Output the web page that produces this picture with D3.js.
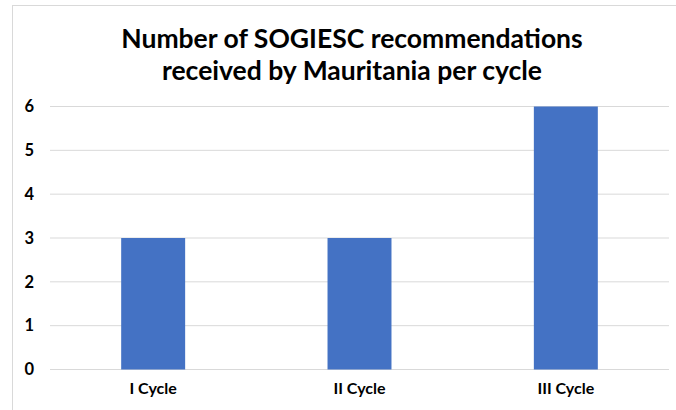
<!DOCTYPE html>
<html>
<head>
<meta charset="utf-8">
<script src="https://cdn.jsdelivr.net/npm/d3@7"></script>
<style>
  body { margin: 0; background: #fff; }
  svg { display: block; font-family: Lato, "Open Sans", sans-serif; }
</style>
</head>
<body>
<svg width="676" height="410"></svg>
<script>
// data
var cycles = ["I Cycle", "II Cycle", "III Cycle"];
var recommendations = [3, 3, 6];
var yTicks = [0, 1, 2, 3, 4, 5, 6];
var titleLines = ["Number of SOGIESC recommendations", "received by Mauritania per cycle"];

var svg = d3.select("svg");

// chart frame (only top and left edges are in view)
svg.append("rect")
    .attr("x", 12.5).attr("y", 5.5)
    .attr("width", 800).attr("height", 600)
    .attr("fill", "#fff")
    .attr("stroke", "#d9d9d9");

var x = d3.scaleBand()
    .domain(cycles)
    .range([50, 669])
    .paddingInner(0.69)
    .paddingOuter(0.345);

var y = d3.scaleLinear()
    .domain([0, 6])
    .range([369.5, 106.5]);

// gridlines
svg.append("g").selectAll("line")
    .data(yTicks)
    .enter().append("line")
    .attr("x1", 50).attr("x2", 669)
    .attr("y1", function(d){return y(d);})
    .attr("y2", function(d){return y(d);})
    .attr("stroke", "#d9d9d9")
    .attr("stroke-width", 1);

// y axis labels
var yAxis = d3.axisLeft(y).tickValues(yTicks).tickFormat(d3.format("d")).tickSize(0).tickPadding(0);
svg.append("g")
    .attr("transform", "translate(34,0)")
    .call(yAxis)
    .call(function(g){g.select(".domain").remove();})
    .selectAll("text")
    .attr("font-family", "Lato, sans-serif")
    .attr("font-size", 16.5)
    .attr("font-weight", "bold")
    .attr("fill", "#000");

// bars
svg.append("g").selectAll("rect")
    .data(recommendations)
    .enter().append("rect")
    .attr("x", function(d, i){return x(cycles[i]);})
    .attr("width", x.bandwidth())
    .attr("y", function(d){return y(d);})
    .attr("height", function(d){return y(0) - y(d);})
    .attr("fill", "#4472c4");

// x axis labels
var xAxis = d3.axisBottom(x).tickSize(0).tickPadding(0);
svg.append("g")
    .attr("transform", "translate(0,383)")
    .call(xAxis)
    .call(function(g){g.select(".domain").remove();})
    .selectAll("text")
    .attr("font-family", "Lato, sans-serif")
    .attr("font-size", 16)
    .attr("font-weight", "bold")
    .attr("fill", "#000");

// title
svg.append("g").selectAll("text")
    .data(titleLines)
    .enter().append("text")
    .attr("x", 352)
    .attr("y", function(d, i){return 48 + i*32;})
    .attr("text-anchor", "middle")
    .attr("font-size", 26.5)
    .attr("font-weight", "bold")
    .attr("fill", "#000")
    .text(function(d){return d;});
</script>
</body>
</html>
